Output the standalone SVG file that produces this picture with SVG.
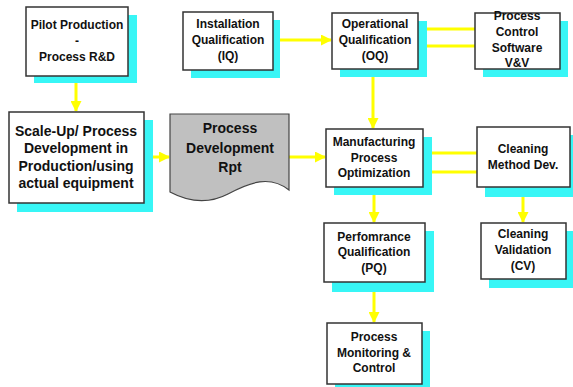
<svg xmlns="http://www.w3.org/2000/svg" width="573" height="387" viewBox="0 0 573 387">
<defs>
<marker id="ah" markerUnits="userSpaceOnUse" markerWidth="11" markerHeight="11" refX="10" refY="5.5" orient="auto">
<path d="M0,0 L11,5.5 L0,11 Z" fill="#ffff00"/>
</marker>
</defs>
<style>
.sh{fill:#38f6f6}
.bx{fill:#fff;stroke:#333;stroke-width:1.5}
.t{font-family:"Liberation Sans",Arial,sans-serif;font-weight:bold;font-size:12px;fill:#111;text-anchor:middle}
.tb{font-family:"Liberation Sans",Arial,sans-serif;font-weight:bold;font-size:14px;fill:#111;text-anchor:middle}
.c{stroke:#ffff00;stroke-width:3;fill:none}
</style>
<rect width="573" height="387" fill="#fff"/>
<g id="connectors">
<line class="c" x1="76" y1="76" x2="76" y2="111" marker-end="url(#ah)"/>
<line class="c" x1="273" y1="40" x2="331" y2="40" marker-end="url(#ah)"/>
<line class="c" x1="144" y1="157" x2="169" y2="157" marker-end="url(#ah)"/>
<line class="c" x1="289" y1="157" x2="325" y2="157" marker-end="url(#ah)"/>
<line class="c" x1="373" y1="69" x2="373" y2="128" marker-end="url(#ah)"/>
<line class="c" x1="418" y1="29" x2="475" y2="29"/>
<line class="c" x1="418" y1="46" x2="475" y2="46"/>
<line class="c" x1="423" y1="153" x2="477" y2="153"/>
<line class="c" x1="423" y1="172" x2="477" y2="172"/>
<line class="c" x1="374" y1="187" x2="374" y2="222" marker-end="url(#ah)"/>
<line class="c" x1="374" y1="282" x2="374" y2="322" marker-end="url(#ah)"/>
<line class="c" x1="523" y1="187" x2="523" y2="222" marker-end="url(#ah)"/>
</g>
<g id="pilot">
<rect class="sh" x="34" y="15" width="103" height="68"/>
<rect class="bx" x="26" y="7" width="102" height="69"/>
<text class="t" x="77" y="29">Pilot Production</text>
<text class="t" x="77" y="45">-</text>
<text class="t" x="77" y="61">Process R&amp;D</text>
</g>
<g id="iq">
<rect class="sh" x="191" y="20" width="89" height="58"/>
<rect class="bx" x="183" y="12" width="90" height="58"/>
<text class="t" x="228" y="28">Installation</text>
<text class="t" x="228" y="44">Qualification</text>
<text class="t" x="228" y="60">(IQ)</text>
</g>
<g id="oq">
<rect class="sh" x="340" y="21" width="87" height="56"/>
<rect class="bx" x="332" y="13" width="86" height="56"/>
<text class="t" x="375" y="28">Operational</text>
<text class="t" x="375" y="44">Qualification</text>
<text class="t" x="375" y="60">(OQ)</text>
</g>
<g id="pcs">
<rect class="sh" x="483" y="21" width="85" height="56"/>
<rect class="bx" x="475" y="13" width="85" height="56"/>
<text class="t" x="517" y="20">Process</text>
<text class="t" x="517" y="36">Control</text>
<text class="t" x="517" y="52">Software</text>
<text class="t" x="517" y="67">V&amp;V</text>
</g>
<g id="scaleup">
<rect class="sh" x="17" y="120" width="136" height="92"/>
<rect class="bx" x="9" y="112" width="135" height="91"/>
<text class="tb" x="76" y="136">Scale-Up/ Process</text>
<text class="tb" x="76" y="153">Development in</text>
<text class="tb" x="76" y="171">Production/using</text>
<text class="tb" x="76" y="188">actual equipment</text>
</g>
<g id="pdr">
<path d="M170,114 H289 V190 C270,175 250,182 228,194 C205,206 185,200 170,192 Z" fill="#c0c0c0" stroke="#444" stroke-width="1.2"/>
<text class="tb" x="230" y="133" font-size="15">Process</text>
<text class="tb" x="230" y="153" font-size="15">Development</text>
<text class="tb" x="230" y="172" font-size="15">Rpt</text>
</g>
<g id="mpo">
<rect class="sh" x="334" y="137" width="98" height="58"/>
<rect class="bx" x="326" y="129" width="97" height="58"/>
<text class="t" x="374" y="146">Manufacturing</text>
<text class="t" x="374" y="162">Process</text>
<text class="t" x="374" y="177">Optimization</text>
</g>
<g id="cmd">
<rect class="sh" x="485" y="135" width="90" height="62"/>
<rect class="bx" x="477" y="127" width="93" height="60"/>
<text class="t" x="523" y="153">Cleaning</text>
<text class="t" x="523" y="169">Method Dev.</text>
</g>
<g id="pq">
<rect class="sh" x="332" y="231" width="102" height="61"/>
<rect class="bx" x="324" y="223" width="101" height="59"/>
<text class="t" x="374" y="241">Perfomrance</text>
<text class="t" x="374" y="256">Qualification</text>
<text class="t" x="374" y="272">(PQ)</text>
</g>
<g id="cv">
<rect class="sh" x="489" y="231" width="86" height="57"/>
<rect class="bx" x="481" y="223" width="85" height="56"/>
<text class="t" x="523" y="238">Cleaning</text>
<text class="t" x="523" y="254">Validation</text>
<text class="t" x="523" y="270">(CV)</text>
</g>
<g id="pmc">
<rect class="sh" x="335" y="331" width="95" height="60"/>
<rect class="bx" x="327" y="323" width="95" height="61"/>
<text class="t" x="374" y="341">Process</text>
<text class="t" x="374" y="357">Monitoring &amp;</text>
<text class="t" x="374" y="372">Control</text>
</g>
</svg>
